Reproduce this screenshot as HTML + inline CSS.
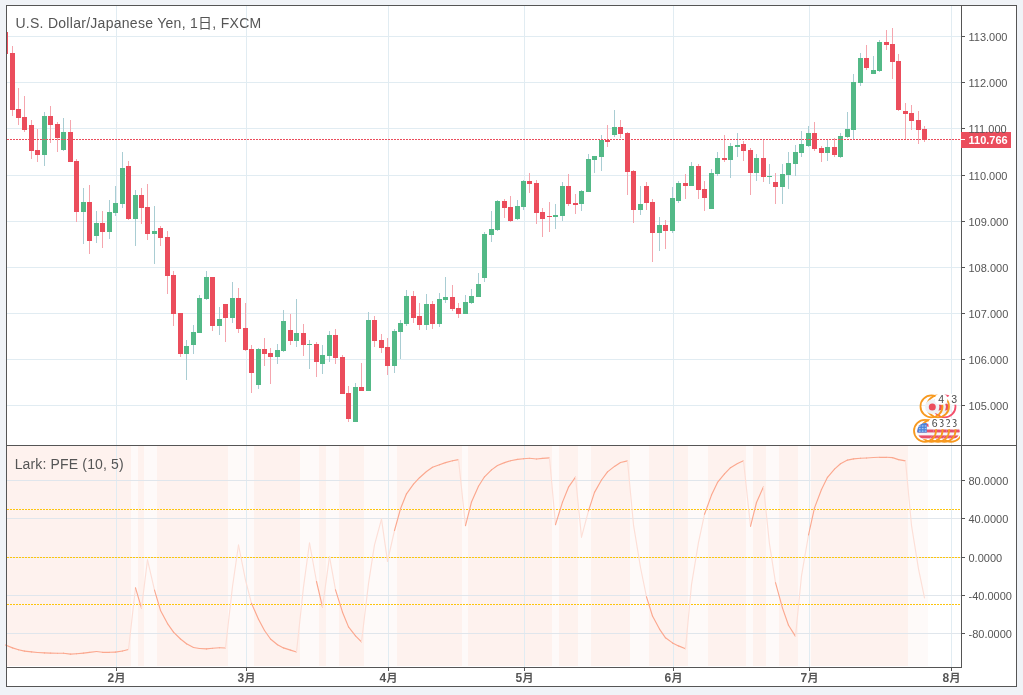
<!DOCTYPE html>
<html><head><meta charset="utf-8"><title>USDJPY</title>
<style>
html,body{margin:0;padding:0;background:#f0f3f7;}
#c{will-change:transform;transform:translateZ(0);position:relative;width:1023px;height:695px;overflow:hidden;background:#f0f3f7;font-family:"Liberation Sans","Noto Sans CJK JP",sans-serif;}
.t{position:absolute;white-space:nowrap;line-height:14px;height:14px;}
#tx{position:absolute;left:0;top:0;width:100%;height:100%;}
</style></head><body><div id="c">
<svg width="1023" height="695" viewBox="0 0 1023 695" style="position:absolute;left:0;top:0">
<rect x="6" y="5" width="1011" height="682" fill="#fff"/>
<g shape-rendering="crispEdges">
<rect x="7" y="446" width="1" height="220" fill="#fef2ee"/>
<rect x="8" y="446" width="7" height="220" fill="#fef2ee"/>
<rect x="15" y="446" width="6" height="220" fill="#fef2ee"/>
<rect x="21" y="446" width="7" height="220" fill="#fef2ee"/>
<rect x="28" y="446" width="6" height="220" fill="#fef2ee"/>
<rect x="34" y="446" width="7" height="220" fill="#fef2ee"/>
<rect x="41" y="446" width="6" height="220" fill="#fef2ee"/>
<rect x="47" y="446" width="7" height="220" fill="#fef2ee"/>
<rect x="54" y="446" width="6" height="220" fill="#fef2ee"/>
<rect x="60" y="446" width="7" height="220" fill="#fef2ee"/>
<rect x="67" y="446" width="6" height="220" fill="#fef2ee"/>
<rect x="73" y="446" width="7" height="220" fill="#fef2ee"/>
<rect x="80" y="446" width="6" height="220" fill="#fef2ee"/>
<rect x="86" y="446" width="6" height="220" fill="#fef2ee"/>
<rect x="92" y="446" width="7" height="220" fill="#fef2ee"/>
<rect x="99" y="446" width="6" height="220" fill="#fef2ee"/>
<rect x="105" y="446" width="7" height="220" fill="#fef2ee"/>
<rect x="112" y="446" width="6" height="220" fill="#fef2ee"/>
<rect x="118" y="446" width="7" height="220" fill="#fef2ee"/>
<rect x="125" y="446" width="6" height="220" fill="#fef2ee"/>
<rect x="131" y="446" width="7" height="220" fill="#fefaf9"/>
<rect x="138" y="446" width="6" height="220" fill="#fef2ee"/>
<rect x="144" y="446" width="7" height="220" fill="#fefaf9"/>
<rect x="151" y="446" width="6" height="220" fill="#fefaf9"/>
<rect x="157" y="446" width="7" height="220" fill="#fef2ee"/>
<rect x="164" y="446" width="6" height="220" fill="#fef2ee"/>
<rect x="170" y="446" width="7" height="220" fill="#fef2ee"/>
<rect x="177" y="446" width="6" height="220" fill="#fef2ee"/>
<rect x="183" y="446" width="7" height="220" fill="#fef2ee"/>
<rect x="190" y="446" width="6" height="220" fill="#fef2ee"/>
<rect x="196" y="446" width="7" height="220" fill="#fef2ee"/>
<rect x="203" y="446" width="6" height="220" fill="#fef2ee"/>
<rect x="209" y="446" width="7" height="220" fill="#fef2ee"/>
<rect x="216" y="446" width="6" height="220" fill="#fef2ee"/>
<rect x="222" y="446" width="6" height="220" fill="#fef2ee"/>
<rect x="228" y="446" width="7" height="220" fill="#fefaf9"/>
<rect x="235" y="446" width="6" height="220" fill="#fefaf9"/>
<rect x="241" y="446" width="7" height="220" fill="#fefaf9"/>
<rect x="248" y="446" width="6" height="220" fill="#fefaf9"/>
<rect x="254" y="446" width="7" height="220" fill="#fef2ee"/>
<rect x="261" y="446" width="6" height="220" fill="#fef2ee"/>
<rect x="267" y="446" width="7" height="220" fill="#fef2ee"/>
<rect x="274" y="446" width="6" height="220" fill="#fef2ee"/>
<rect x="280" y="446" width="7" height="220" fill="#fef2ee"/>
<rect x="287" y="446" width="6" height="220" fill="#fef2ee"/>
<rect x="293" y="446" width="7" height="220" fill="#fef2ee"/>
<rect x="300" y="446" width="6" height="220" fill="#fefaf9"/>
<rect x="306" y="446" width="7" height="220" fill="#fefaf9"/>
<rect x="313" y="446" width="6" height="220" fill="#fefaf9"/>
<rect x="319" y="446" width="7" height="220" fill="#fef2ee"/>
<rect x="326" y="446" width="6" height="220" fill="#fefaf9"/>
<rect x="332" y="446" width="7" height="220" fill="#fefaf9"/>
<rect x="339" y="446" width="6" height="220" fill="#fef2ee"/>
<rect x="345" y="446" width="6" height="220" fill="#fef2ee"/>
<rect x="351" y="446" width="7" height="220" fill="#fef2ee"/>
<rect x="358" y="446" width="6" height="220" fill="#fef2ee"/>
<rect x="364" y="446" width="7" height="220" fill="#fefaf9"/>
<rect x="371" y="446" width="6" height="220" fill="#fefaf9"/>
<rect x="377" y="446" width="7" height="220" fill="#fefaf9"/>
<rect x="384" y="446" width="6" height="220" fill="#fefaf9"/>
<rect x="390" y="446" width="7" height="220" fill="#fefaf9"/>
<rect x="397" y="446" width="6" height="220" fill="#fef2ee"/>
<rect x="403" y="446" width="7" height="220" fill="#fef2ee"/>
<rect x="410" y="446" width="6" height="220" fill="#fef2ee"/>
<rect x="416" y="446" width="7" height="220" fill="#fef2ee"/>
<rect x="423" y="446" width="6" height="220" fill="#fef2ee"/>
<rect x="429" y="446" width="7" height="220" fill="#fef2ee"/>
<rect x="436" y="446" width="6" height="220" fill="#fef2ee"/>
<rect x="442" y="446" width="7" height="220" fill="#fef2ee"/>
<rect x="449" y="446" width="6" height="220" fill="#fef2ee"/>
<rect x="455" y="446" width="7" height="220" fill="#fef2ee"/>
<rect x="462" y="446" width="6" height="220" fill="#fefaf9"/>
<rect x="468" y="446" width="6" height="220" fill="#fef2ee"/>
<rect x="474" y="446" width="7" height="220" fill="#fef2ee"/>
<rect x="481" y="446" width="6" height="220" fill="#fef2ee"/>
<rect x="487" y="446" width="7" height="220" fill="#fef2ee"/>
<rect x="494" y="446" width="6" height="220" fill="#fef2ee"/>
<rect x="500" y="446" width="7" height="220" fill="#fef2ee"/>
<rect x="507" y="446" width="6" height="220" fill="#fef2ee"/>
<rect x="513" y="446" width="7" height="220" fill="#fef2ee"/>
<rect x="520" y="446" width="6" height="220" fill="#fef2ee"/>
<rect x="526" y="446" width="7" height="220" fill="#fef2ee"/>
<rect x="533" y="446" width="6" height="220" fill="#fef2ee"/>
<rect x="539" y="446" width="7" height="220" fill="#fef2ee"/>
<rect x="546" y="446" width="6" height="220" fill="#fef2ee"/>
<rect x="552" y="446" width="7" height="220" fill="#fefaf9"/>
<rect x="559" y="446" width="6" height="220" fill="#fef2ee"/>
<rect x="565" y="446" width="7" height="220" fill="#fef2ee"/>
<rect x="572" y="446" width="6" height="220" fill="#fef2ee"/>
<rect x="578" y="446" width="7" height="220" fill="#fefaf9"/>
<rect x="585" y="446" width="6" height="220" fill="#fefaf9"/>
<rect x="591" y="446" width="6" height="220" fill="#fef2ee"/>
<rect x="597" y="446" width="7" height="220" fill="#fef2ee"/>
<rect x="604" y="446" width="6" height="220" fill="#fef2ee"/>
<rect x="610" y="446" width="7" height="220" fill="#fef2ee"/>
<rect x="617" y="446" width="6" height="220" fill="#fef2ee"/>
<rect x="623" y="446" width="7" height="220" fill="#fef2ee"/>
<rect x="630" y="446" width="6" height="220" fill="#fefaf9"/>
<rect x="636" y="446" width="7" height="220" fill="#fefaf9"/>
<rect x="643" y="446" width="6" height="220" fill="#fefaf9"/>
<rect x="649" y="446" width="7" height="220" fill="#fef2ee"/>
<rect x="656" y="446" width="6" height="220" fill="#fef2ee"/>
<rect x="662" y="446" width="7" height="220" fill="#fef2ee"/>
<rect x="669" y="446" width="6" height="220" fill="#fef2ee"/>
<rect x="675" y="446" width="7" height="220" fill="#fef2ee"/>
<rect x="682" y="446" width="6" height="220" fill="#fef2ee"/>
<rect x="688" y="446" width="7" height="220" fill="#fefaf9"/>
<rect x="695" y="446" width="6" height="220" fill="#fefaf9"/>
<rect x="701" y="446" width="7" height="220" fill="#fefaf9"/>
<rect x="708" y="446" width="6" height="220" fill="#fef2ee"/>
<rect x="714" y="446" width="6" height="220" fill="#fef2ee"/>
<rect x="720" y="446" width="7" height="220" fill="#fef2ee"/>
<rect x="727" y="446" width="6" height="220" fill="#fef2ee"/>
<rect x="733" y="446" width="7" height="220" fill="#fef2ee"/>
<rect x="740" y="446" width="6" height="220" fill="#fef2ee"/>
<rect x="746" y="446" width="7" height="220" fill="#fefaf9"/>
<rect x="753" y="446" width="6" height="220" fill="#fef2ee"/>
<rect x="759" y="446" width="7" height="220" fill="#fef2ee"/>
<rect x="766" y="446" width="6" height="220" fill="#fefaf9"/>
<rect x="772" y="446" width="7" height="220" fill="#fefaf9"/>
<rect x="779" y="446" width="6" height="220" fill="#fef2ee"/>
<rect x="785" y="446" width="7" height="220" fill="#fef2ee"/>
<rect x="792" y="446" width="6" height="220" fill="#fef2ee"/>
<rect x="798" y="446" width="7" height="220" fill="#fefaf9"/>
<rect x="805" y="446" width="6" height="220" fill="#fefaf9"/>
<rect x="811" y="446" width="7" height="220" fill="#fef2ee"/>
<rect x="818" y="446" width="6" height="220" fill="#fef2ee"/>
<rect x="824" y="446" width="7" height="220" fill="#fef2ee"/>
<rect x="831" y="446" width="6" height="220" fill="#fef2ee"/>
<rect x="837" y="446" width="6" height="220" fill="#fef2ee"/>
<rect x="843" y="446" width="7" height="220" fill="#fef2ee"/>
<rect x="850" y="446" width="6" height="220" fill="#fef2ee"/>
<rect x="856" y="446" width="7" height="220" fill="#fef2ee"/>
<rect x="863" y="446" width="6" height="220" fill="#fef2ee"/>
<rect x="869" y="446" width="7" height="220" fill="#fef2ee"/>
<rect x="876" y="446" width="6" height="220" fill="#fef2ee"/>
<rect x="882" y="446" width="7" height="220" fill="#fef2ee"/>
<rect x="889" y="446" width="6" height="220" fill="#fef2ee"/>
<rect x="895" y="446" width="7" height="220" fill="#fef2ee"/>
<rect x="902" y="446" width="6" height="220" fill="#fef2ee"/>
<rect x="908" y="446" width="7" height="220" fill="#fefaf9"/>
<rect x="915" y="446" width="6" height="220" fill="#fefaf9"/>
<rect x="921" y="446" width="7" height="220" fill="#fefaf9"/>
<rect x="116" y="6" width="1" height="661" fill="#e1ecf2"/>
<rect x="246" y="6" width="1" height="661" fill="#e1ecf2"/>
<rect x="388" y="6" width="1" height="661" fill="#e1ecf2"/>
<rect x="524" y="6" width="1" height="661" fill="#e1ecf2"/>
<rect x="673" y="6" width="1" height="661" fill="#e1ecf2"/>
<rect x="809" y="6" width="1" height="661" fill="#e1ecf2"/>
<rect x="951" y="6" width="1" height="661" fill="#e1ecf2"/>
<rect x="7" y="36" width="954" height="1" fill="#e1ecf2"/>
<rect x="7" y="82" width="954" height="1" fill="#e1ecf2"/>
<rect x="7" y="128" width="954" height="1" fill="#e1ecf2"/>
<rect x="7" y="175" width="954" height="1" fill="#e1ecf2"/>
<rect x="7" y="221" width="954" height="1" fill="#e1ecf2"/>
<rect x="7" y="267" width="954" height="1" fill="#e1ecf2"/>
<rect x="7" y="313" width="954" height="1" fill="#e1ecf2"/>
<rect x="7" y="359" width="954" height="1" fill="#e1ecf2"/>
<rect x="7" y="405" width="954" height="1" fill="#e1ecf2"/>
<rect x="7" y="480" width="954" height="1" fill="#e0e6ec"/>
<rect x="7" y="518" width="954" height="1" fill="#e0e6ec"/>
<rect x="7" y="557" width="954" height="1" fill="#e0e6ec"/>
<rect x="7" y="595" width="954" height="1" fill="#e0e6ec"/>
<rect x="7" y="633" width="954" height="1" fill="#e0e6ec"/>
</g>
<g shape-rendering="crispEdges">
<rect x="7" y="32" width="1" height="22" fill="#eb4d5c"/>
<rect x="12" y="46" width="1" height="70" fill="#f5a6ae"/>
<rect x="10" y="53" width="5" height="57" fill="#eb4d5c"/>
<rect x="18" y="88" width="1" height="37" fill="#f5a6ae"/>
<rect x="16" y="109" width="5" height="9" fill="#eb4d5c"/>
<rect x="24" y="96" width="1" height="36" fill="#f5a6ae"/>
<rect x="22" y="117" width="5" height="13" fill="#eb4d5c"/>
<rect x="31" y="120" width="1" height="39" fill="#f5a6ae"/>
<rect x="29" y="125" width="5" height="26" fill="#eb4d5c"/>
<rect x="37" y="129" width="1" height="33" fill="#f5a6ae"/>
<rect x="35" y="150" width="5" height="5" fill="#eb4d5c"/>
<rect x="44" y="112" width="1" height="54" fill="#a9cdd3"/>
<rect x="42" y="116" width="5" height="39" fill="#53b987"/>
<rect x="50" y="106" width="1" height="37" fill="#f5a6ae"/>
<rect x="48" y="116" width="5" height="9" fill="#eb4d5c"/>
<rect x="57" y="122" width="1" height="30" fill="#f5a6ae"/>
<rect x="55" y="124" width="5" height="14" fill="#eb4d5c"/>
<rect x="63" y="118" width="1" height="33" fill="#a9cdd3"/>
<rect x="61" y="132" width="5" height="18" fill="#53b987"/>
<rect x="70" y="120" width="1" height="42" fill="#f5a6ae"/>
<rect x="68" y="132" width="5" height="30" fill="#eb4d5c"/>
<rect x="76" y="159" width="1" height="63" fill="#f5a6ae"/>
<rect x="74" y="161" width="5" height="51" fill="#eb4d5c"/>
<rect x="83" y="188" width="1" height="56" fill="#a9cdd3"/>
<rect x="81" y="202" width="5" height="10" fill="#53b987"/>
<rect x="89" y="185" width="1" height="69" fill="#f5a6ae"/>
<rect x="87" y="202" width="5" height="39" fill="#eb4d5c"/>
<rect x="96" y="211" width="1" height="32" fill="#a9cdd3"/>
<rect x="94" y="223" width="5" height="13" fill="#53b987"/>
<rect x="102" y="211" width="1" height="37" fill="#f5a6ae"/>
<rect x="100" y="223" width="5" height="9" fill="#eb4d5c"/>
<rect x="109" y="200" width="1" height="39" fill="#a9cdd3"/>
<rect x="107" y="212" width="5" height="20" fill="#53b987"/>
<rect x="115" y="186" width="1" height="30" fill="#a9cdd3"/>
<rect x="113" y="203" width="5" height="10" fill="#53b987"/>
<rect x="122" y="152" width="1" height="56" fill="#a9cdd3"/>
<rect x="120" y="168" width="5" height="36" fill="#53b987"/>
<rect x="128" y="161" width="1" height="59" fill="#f5a6ae"/>
<rect x="126" y="166" width="5" height="53" fill="#eb4d5c"/>
<rect x="135" y="190" width="1" height="56" fill="#a9cdd3"/>
<rect x="133" y="195" width="5" height="24" fill="#53b987"/>
<rect x="141" y="188" width="1" height="36" fill="#f5a6ae"/>
<rect x="139" y="195" width="5" height="13" fill="#eb4d5c"/>
<rect x="147" y="184" width="1" height="56" fill="#f5a6ae"/>
<rect x="145" y="207" width="5" height="27" fill="#eb4d5c"/>
<rect x="154" y="206" width="1" height="58" fill="#a9cdd3"/>
<rect x="152" y="231" width="5" height="3" fill="#53b987"/>
<rect x="160" y="226" width="1" height="20" fill="#f5a6ae"/>
<rect x="158" y="228" width="5" height="10" fill="#eb4d5c"/>
<rect x="167" y="231" width="1" height="63" fill="#f5a6ae"/>
<rect x="165" y="237" width="5" height="39" fill="#eb4d5c"/>
<rect x="173" y="271" width="1" height="55" fill="#f5a6ae"/>
<rect x="171" y="275" width="5" height="39" fill="#eb4d5c"/>
<rect x="180" y="313" width="1" height="44" fill="#f5a6ae"/>
<rect x="178" y="313" width="5" height="41" fill="#eb4d5c"/>
<rect x="186" y="340" width="1" height="40" fill="#a9cdd3"/>
<rect x="184" y="346" width="5" height="8" fill="#53b987"/>
<rect x="193" y="325" width="1" height="29" fill="#a9cdd3"/>
<rect x="191" y="332" width="5" height="13" fill="#53b987"/>
<rect x="199" y="295" width="1" height="38" fill="#a9cdd3"/>
<rect x="197" y="298" width="5" height="35" fill="#53b987"/>
<rect x="206" y="271" width="1" height="29" fill="#a9cdd3"/>
<rect x="204" y="277" width="5" height="22" fill="#53b987"/>
<rect x="212" y="277" width="1" height="54" fill="#f5a6ae"/>
<rect x="210" y="277" width="5" height="49" fill="#eb4d5c"/>
<rect x="219" y="307" width="1" height="28" fill="#a9cdd3"/>
<rect x="217" y="319" width="5" height="7" fill="#53b987"/>
<rect x="225" y="304" width="1" height="38" fill="#f5a6ae"/>
<rect x="223" y="304" width="5" height="14" fill="#eb4d5c"/>
<rect x="232" y="282" width="1" height="41" fill="#a9cdd3"/>
<rect x="230" y="298" width="5" height="20" fill="#53b987"/>
<rect x="238" y="288" width="1" height="45" fill="#f5a6ae"/>
<rect x="236" y="298" width="5" height="31" fill="#eb4d5c"/>
<rect x="245" y="303" width="1" height="48" fill="#f5a6ae"/>
<rect x="243" y="328" width="5" height="22" fill="#eb4d5c"/>
<rect x="251" y="345" width="1" height="48" fill="#f5a6ae"/>
<rect x="249" y="349" width="5" height="24" fill="#eb4d5c"/>
<rect x="258" y="348" width="1" height="41" fill="#a9cdd3"/>
<rect x="256" y="349" width="5" height="36" fill="#53b987"/>
<rect x="264" y="338" width="1" height="28" fill="#f5a6ae"/>
<rect x="262" y="349" width="5" height="5" fill="#eb4d5c"/>
<rect x="270" y="348" width="1" height="36" fill="#f5a6ae"/>
<rect x="268" y="353" width="5" height="4" fill="#eb4d5c"/>
<rect x="277" y="344" width="1" height="20" fill="#a9cdd3"/>
<rect x="275" y="350" width="5" height="7" fill="#53b987"/>
<rect x="283" y="310" width="1" height="42" fill="#a9cdd3"/>
<rect x="281" y="321" width="5" height="30" fill="#53b987"/>
<rect x="290" y="314" width="1" height="31" fill="#f5a6ae"/>
<rect x="288" y="330" width="5" height="11" fill="#eb4d5c"/>
<rect x="296" y="299" width="1" height="48" fill="#a9cdd3"/>
<rect x="294" y="333" width="5" height="8" fill="#53b987"/>
<rect x="303" y="324" width="1" height="32" fill="#f5a6ae"/>
<rect x="301" y="333" width="5" height="12" fill="#eb4d5c"/>
<rect x="309" y="340" width="1" height="29" fill="#a9cdd3"/>
<rect x="307" y="344" width="5" height="1" fill="#53b987"/>
<rect x="316" y="342" width="1" height="35" fill="#f5a6ae"/>
<rect x="314" y="344" width="5" height="18" fill="#eb4d5c"/>
<rect x="322" y="345" width="1" height="29" fill="#a9cdd3"/>
<rect x="320" y="355" width="5" height="9" fill="#53b987"/>
<rect x="329" y="331" width="1" height="31" fill="#a9cdd3"/>
<rect x="327" y="335" width="5" height="21" fill="#53b987"/>
<rect x="335" y="329" width="1" height="35" fill="#f5a6ae"/>
<rect x="333" y="335" width="5" height="23" fill="#eb4d5c"/>
<rect x="342" y="355" width="1" height="39" fill="#f5a6ae"/>
<rect x="340" y="357" width="5" height="37" fill="#eb4d5c"/>
<rect x="348" y="386" width="1" height="36" fill="#f5a6ae"/>
<rect x="346" y="393" width="5" height="26" fill="#eb4d5c"/>
<rect x="355" y="383" width="1" height="39" fill="#a9cdd3"/>
<rect x="353" y="387" width="5" height="35" fill="#53b987"/>
<rect x="361" y="363" width="1" height="28" fill="#f5a6ae"/>
<rect x="359" y="387" width="5" height="4" fill="#eb4d5c"/>
<rect x="368" y="312" width="1" height="79" fill="#a9cdd3"/>
<rect x="366" y="320" width="5" height="71" fill="#53b987"/>
<rect x="374" y="316" width="1" height="31" fill="#f5a6ae"/>
<rect x="372" y="320" width="5" height="21" fill="#eb4d5c"/>
<rect x="381" y="334" width="1" height="19" fill="#f5a6ae"/>
<rect x="379" y="340" width="5" height="8" fill="#eb4d5c"/>
<rect x="387" y="338" width="1" height="37" fill="#f5a6ae"/>
<rect x="385" y="347" width="5" height="19" fill="#eb4d5c"/>
<rect x="394" y="329" width="1" height="44" fill="#a9cdd3"/>
<rect x="392" y="331" width="5" height="35" fill="#53b987"/>
<rect x="400" y="320" width="1" height="39" fill="#a9cdd3"/>
<rect x="398" y="323" width="5" height="9" fill="#53b987"/>
<rect x="406" y="290" width="1" height="36" fill="#a9cdd3"/>
<rect x="404" y="296" width="5" height="28" fill="#53b987"/>
<rect x="413" y="291" width="1" height="32" fill="#f5a6ae"/>
<rect x="411" y="296" width="5" height="22" fill="#eb4d5c"/>
<rect x="419" y="303" width="1" height="27" fill="#f5a6ae"/>
<rect x="417" y="316" width="5" height="9" fill="#eb4d5c"/>
<rect x="426" y="294" width="1" height="36" fill="#a9cdd3"/>
<rect x="424" y="304" width="5" height="21" fill="#53b987"/>
<rect x="432" y="301" width="1" height="28" fill="#f5a6ae"/>
<rect x="430" y="304" width="5" height="20" fill="#eb4d5c"/>
<rect x="439" y="293" width="1" height="34" fill="#a9cdd3"/>
<rect x="437" y="299" width="5" height="25" fill="#53b987"/>
<rect x="445" y="277" width="1" height="26" fill="#a9cdd3"/>
<rect x="443" y="297" width="5" height="3" fill="#53b987"/>
<rect x="452" y="285" width="1" height="26" fill="#f5a6ae"/>
<rect x="450" y="297" width="5" height="12" fill="#eb4d5c"/>
<rect x="458" y="303" width="1" height="15" fill="#f5a6ae"/>
<rect x="456" y="308" width="5" height="6" fill="#eb4d5c"/>
<rect x="465" y="295" width="1" height="19" fill="#a9cdd3"/>
<rect x="463" y="302" width="5" height="12" fill="#53b987"/>
<rect x="471" y="289" width="1" height="15" fill="#a9cdd3"/>
<rect x="469" y="296" width="5" height="7" fill="#53b987"/>
<rect x="478" y="273" width="1" height="24" fill="#a9cdd3"/>
<rect x="476" y="284" width="5" height="13" fill="#53b987"/>
<rect x="484" y="232" width="1" height="50" fill="#a9cdd3"/>
<rect x="482" y="234" width="5" height="44" fill="#53b987"/>
<rect x="491" y="211" width="1" height="31" fill="#a9cdd3"/>
<rect x="489" y="229" width="5" height="6" fill="#53b987"/>
<rect x="497" y="200" width="1" height="31" fill="#a9cdd3"/>
<rect x="495" y="201" width="5" height="29" fill="#53b987"/>
<rect x="504" y="199" width="1" height="19" fill="#f5a6ae"/>
<rect x="502" y="201" width="5" height="7" fill="#eb4d5c"/>
<rect x="510" y="196" width="1" height="26" fill="#f5a6ae"/>
<rect x="508" y="207" width="5" height="14" fill="#eb4d5c"/>
<rect x="517" y="200" width="1" height="20" fill="#a9cdd3"/>
<rect x="515" y="206" width="5" height="13" fill="#53b987"/>
<rect x="523" y="180" width="1" height="30" fill="#a9cdd3"/>
<rect x="521" y="181" width="5" height="26" fill="#53b987"/>
<rect x="529" y="173" width="1" height="20" fill="#f5a6ae"/>
<rect x="527" y="181" width="5" height="3" fill="#eb4d5c"/>
<rect x="536" y="180" width="1" height="44" fill="#f5a6ae"/>
<rect x="534" y="183" width="5" height="30" fill="#eb4d5c"/>
<rect x="542" y="208" width="1" height="29" fill="#f5a6ae"/>
<rect x="540" y="212" width="5" height="7" fill="#eb4d5c"/>
<rect x="549" y="202" width="1" height="30" fill="#f5a6ae"/>
<rect x="547" y="216" width="5" height="1" fill="#eb4d5c"/>
<rect x="555" y="204" width="1" height="25" fill="#a9cdd3"/>
<rect x="553" y="215" width="5" height="2" fill="#53b987"/>
<rect x="562" y="182" width="1" height="39" fill="#a9cdd3"/>
<rect x="560" y="186" width="5" height="30" fill="#53b987"/>
<rect x="568" y="174" width="1" height="32" fill="#f5a6ae"/>
<rect x="566" y="186" width="5" height="18" fill="#eb4d5c"/>
<rect x="575" y="194" width="1" height="20" fill="#f5a6ae"/>
<rect x="573" y="203" width="5" height="2" fill="#eb4d5c"/>
<rect x="581" y="190" width="1" height="21" fill="#a9cdd3"/>
<rect x="579" y="191" width="5" height="13" fill="#53b987"/>
<rect x="588" y="154" width="1" height="38" fill="#a9cdd3"/>
<rect x="586" y="159" width="5" height="33" fill="#53b987"/>
<rect x="594" y="156" width="1" height="17" fill="#a9cdd3"/>
<rect x="592" y="156" width="5" height="4" fill="#53b987"/>
<rect x="601" y="135" width="1" height="36" fill="#a9cdd3"/>
<rect x="599" y="140" width="5" height="17" fill="#53b987"/>
<rect x="607" y="125" width="1" height="22" fill="#f5a6ae"/>
<rect x="605" y="140" width="5" height="2" fill="#eb4d5c"/>
<rect x="614" y="110" width="1" height="27" fill="#a9cdd3"/>
<rect x="612" y="127" width="5" height="8" fill="#53b987"/>
<rect x="620" y="120" width="1" height="18" fill="#f5a6ae"/>
<rect x="618" y="127" width="5" height="7" fill="#eb4d5c"/>
<rect x="627" y="132" width="1" height="63" fill="#f5a6ae"/>
<rect x="625" y="133" width="5" height="39" fill="#eb4d5c"/>
<rect x="633" y="170" width="1" height="53" fill="#f5a6ae"/>
<rect x="631" y="171" width="5" height="39" fill="#eb4d5c"/>
<rect x="640" y="186" width="1" height="29" fill="#a9cdd3"/>
<rect x="638" y="204" width="5" height="6" fill="#53b987"/>
<rect x="646" y="182" width="1" height="28" fill="#f5a6ae"/>
<rect x="644" y="186" width="5" height="17" fill="#eb4d5c"/>
<rect x="652" y="199" width="1" height="63" fill="#f5a6ae"/>
<rect x="650" y="202" width="5" height="31" fill="#eb4d5c"/>
<rect x="659" y="217" width="1" height="34" fill="#a9cdd3"/>
<rect x="657" y="225" width="5" height="8" fill="#53b987"/>
<rect x="665" y="220" width="1" height="29" fill="#f5a6ae"/>
<rect x="663" y="225" width="5" height="6" fill="#eb4d5c"/>
<rect x="672" y="187" width="1" height="46" fill="#a9cdd3"/>
<rect x="670" y="198" width="5" height="33" fill="#53b987"/>
<rect x="678" y="181" width="1" height="22" fill="#a9cdd3"/>
<rect x="676" y="183" width="5" height="18" fill="#53b987"/>
<rect x="685" y="174" width="1" height="25" fill="#f5a6ae"/>
<rect x="683" y="183" width="5" height="3" fill="#eb4d5c"/>
<rect x="691" y="162" width="1" height="24" fill="#a9cdd3"/>
<rect x="689" y="166" width="5" height="20" fill="#53b987"/>
<rect x="698" y="164" width="1" height="35" fill="#f5a6ae"/>
<rect x="696" y="166" width="5" height="24" fill="#eb4d5c"/>
<rect x="704" y="181" width="1" height="30" fill="#f5a6ae"/>
<rect x="702" y="189" width="5" height="9" fill="#eb4d5c"/>
<rect x="711" y="169" width="1" height="40" fill="#a9cdd3"/>
<rect x="709" y="173" width="5" height="36" fill="#53b987"/>
<rect x="717" y="152" width="1" height="24" fill="#a9cdd3"/>
<rect x="715" y="158" width="5" height="16" fill="#53b987"/>
<rect x="724" y="135" width="1" height="27" fill="#f5a6ae"/>
<rect x="722" y="158" width="5" height="2" fill="#eb4d5c"/>
<rect x="730" y="143" width="1" height="35" fill="#a9cdd3"/>
<rect x="728" y="146" width="5" height="14" fill="#53b987"/>
<rect x="737" y="133" width="1" height="24" fill="#a9cdd3"/>
<rect x="735" y="145" width="5" height="2" fill="#53b987"/>
<rect x="743" y="141" width="1" height="20" fill="#f5a6ae"/>
<rect x="741" y="144" width="5" height="7" fill="#eb4d5c"/>
<rect x="750" y="148" width="1" height="47" fill="#f5a6ae"/>
<rect x="748" y="150" width="5" height="23" fill="#eb4d5c"/>
<rect x="756" y="154" width="1" height="27" fill="#a9cdd3"/>
<rect x="754" y="158" width="5" height="15" fill="#53b987"/>
<rect x="763" y="140" width="1" height="42" fill="#f5a6ae"/>
<rect x="761" y="158" width="5" height="19" fill="#eb4d5c"/>
<rect x="769" y="164" width="1" height="20" fill="#a9cdd3"/>
<rect x="767" y="176" width="5" height="1" fill="#53b987"/>
<rect x="775" y="173" width="1" height="31" fill="#f5a6ae"/>
<rect x="773" y="182" width="5" height="5" fill="#eb4d5c"/>
<rect x="782" y="164" width="1" height="40" fill="#a9cdd3"/>
<rect x="780" y="174" width="5" height="13" fill="#53b987"/>
<rect x="788" y="152" width="1" height="37" fill="#a9cdd3"/>
<rect x="786" y="163" width="5" height="12" fill="#53b987"/>
<rect x="795" y="145" width="1" height="31" fill="#a9cdd3"/>
<rect x="793" y="152" width="5" height="12" fill="#53b987"/>
<rect x="801" y="131" width="1" height="26" fill="#a9cdd3"/>
<rect x="799" y="144" width="5" height="9" fill="#53b987"/>
<rect x="808" y="126" width="1" height="21" fill="#a9cdd3"/>
<rect x="806" y="133" width="5" height="13" fill="#53b987"/>
<rect x="814" y="122" width="1" height="29" fill="#f5a6ae"/>
<rect x="812" y="133" width="5" height="16" fill="#eb4d5c"/>
<rect x="821" y="146" width="1" height="16" fill="#f5a6ae"/>
<rect x="819" y="148" width="5" height="5" fill="#eb4d5c"/>
<rect x="827" y="140" width="1" height="21" fill="#a9cdd3"/>
<rect x="825" y="147" width="5" height="6" fill="#53b987"/>
<rect x="834" y="138" width="1" height="19" fill="#f5a6ae"/>
<rect x="832" y="147" width="5" height="8" fill="#eb4d5c"/>
<rect x="840" y="133" width="1" height="25" fill="#a9cdd3"/>
<rect x="838" y="136" width="5" height="21" fill="#53b987"/>
<rect x="847" y="112" width="1" height="26" fill="#a9cdd3"/>
<rect x="845" y="129" width="5" height="8" fill="#53b987"/>
<rect x="853" y="74" width="1" height="65" fill="#a9cdd3"/>
<rect x="851" y="82" width="5" height="48" fill="#53b987"/>
<rect x="860" y="53" width="1" height="33" fill="#a9cdd3"/>
<rect x="858" y="58" width="5" height="25" fill="#53b987"/>
<rect x="866" y="45" width="1" height="25" fill="#f5a6ae"/>
<rect x="864" y="58" width="5" height="10" fill="#eb4d5c"/>
<rect x="873" y="56" width="1" height="18" fill="#a9cdd3"/>
<rect x="871" y="70" width="5" height="4" fill="#53b987"/>
<rect x="879" y="40" width="1" height="32" fill="#a9cdd3"/>
<rect x="877" y="42" width="5" height="29" fill="#53b987"/>
<rect x="886" y="30" width="1" height="20" fill="#f5a6ae"/>
<rect x="884" y="42" width="5" height="3" fill="#eb4d5c"/>
<rect x="892" y="28" width="1" height="51" fill="#f5a6ae"/>
<rect x="890" y="44" width="5" height="18" fill="#eb4d5c"/>
<rect x="898" y="54" width="1" height="57" fill="#f5a6ae"/>
<rect x="896" y="61" width="5" height="49" fill="#eb4d5c"/>
<rect x="905" y="103" width="1" height="36" fill="#f5a6ae"/>
<rect x="903" y="111" width="5" height="3" fill="#eb4d5c"/>
<rect x="911" y="105" width="1" height="25" fill="#f5a6ae"/>
<rect x="909" y="113" width="5" height="8" fill="#eb4d5c"/>
<rect x="918" y="111" width="1" height="33" fill="#f5a6ae"/>
<rect x="916" y="120" width="5" height="10" fill="#eb4d5c"/>
<rect x="924" y="126" width="1" height="16" fill="#f5a6ae"/>
<rect x="922" y="129" width="5" height="11" fill="#eb4d5c"/>
</g>
<line x1="7" y1="139.5" x2="961" y2="139.5" stroke="#eb4d5c" stroke-width="1" stroke-dasharray="2,1" shape-rendering="crispEdges"/>
<line x1="7" y1="509.5" x2="960" y2="509.5" stroke="#fdc50c" stroke-width="1" stroke-dasharray="2,1" shape-rendering="crispEdges"/>
<line x1="7" y1="557.5" x2="960" y2="557.5" stroke="#fdc50c" stroke-width="1" stroke-dasharray="2,1" shape-rendering="crispEdges"/>
<line x1="7" y1="604.5" x2="960" y2="604.5" stroke="#fdc50c" stroke-width="1" stroke-dasharray="2,1" shape-rendering="crispEdges"/>
<g fill="none" stroke-width="1.15" stroke-linecap="round">
<line x1="5.5" y1="645.0" x2="12.5" y2="647.9" stroke="#fba88f"/>
<line x1="12.5" y1="647.9" x2="18.5" y2="649.8" stroke="#fba88f"/>
<line x1="18.5" y1="649.8" x2="24.5" y2="651.1" stroke="#fba88f"/>
<line x1="24.5" y1="651.1" x2="31.5" y2="651.9" stroke="#fba88f"/>
<line x1="31.5" y1="651.9" x2="37.5" y2="652.5" stroke="#fba88f"/>
<line x1="37.5" y1="652.5" x2="44.5" y2="652.9" stroke="#fba88f"/>
<line x1="44.5" y1="652.9" x2="50.5" y2="653.1" stroke="#fba88f"/>
<line x1="50.5" y1="653.1" x2="57.5" y2="653.3" stroke="#fba88f"/>
<line x1="57.5" y1="653.3" x2="63.5" y2="653.2" stroke="#fba88f"/>
<line x1="63.5" y1="653.2" x2="70.5" y2="654.1" stroke="#fba88f"/>
<line x1="70.5" y1="654.1" x2="76.5" y2="653.7" stroke="#fba88f"/>
<line x1="76.5" y1="653.7" x2="83.5" y2="653.1" stroke="#fba88f"/>
<line x1="83.5" y1="653.1" x2="89.5" y2="652.4" stroke="#fba88f"/>
<line x1="89.5" y1="652.4" x2="96.5" y2="651.5" stroke="#fba88f"/>
<line x1="96.5" y1="651.5" x2="102.5" y2="652.3" stroke="#fba88f"/>
<line x1="102.5" y1="652.3" x2="109.5" y2="652.3" stroke="#fba88f"/>
<line x1="109.5" y1="652.3" x2="115.5" y2="652.1" stroke="#fba88f"/>
<line x1="115.5" y1="652.1" x2="122.5" y2="651.0" stroke="#fba88f"/>
<line x1="122.5" y1="651.0" x2="128.5" y2="649.5" stroke="#fba88f"/>
<line x1="128.5" y1="649.5" x2="135.5" y2="587.8" stroke="#fddfd7"/>
<line x1="135.5" y1="587.8" x2="141.5" y2="608.1" stroke="#fba88f"/>
<line x1="141.5" y1="608.1" x2="147.5" y2="559.8" stroke="#fddfd7"/>
<line x1="147.5" y1="559.8" x2="154.5" y2="590.1" stroke="#fddfd7"/>
<line x1="154.5" y1="590.1" x2="160.5" y2="610.4" stroke="#fba88f"/>
<line x1="160.5" y1="610.4" x2="167.5" y2="623.6" stroke="#fba88f"/>
<line x1="167.5" y1="623.6" x2="173.5" y2="632.1" stroke="#fba88f"/>
<line x1="173.5" y1="632.1" x2="180.5" y2="639.0" stroke="#fba88f"/>
<line x1="180.5" y1="639.0" x2="186.5" y2="643.8" stroke="#fba88f"/>
<line x1="186.5" y1="643.8" x2="193.5" y2="647.5" stroke="#fba88f"/>
<line x1="193.5" y1="647.5" x2="199.5" y2="648.5" stroke="#fba88f"/>
<line x1="199.5" y1="648.5" x2="206.5" y2="648.9" stroke="#fba88f"/>
<line x1="206.5" y1="648.9" x2="212.5" y2="648.3" stroke="#fba88f"/>
<line x1="212.5" y1="648.3" x2="219.5" y2="647.8" stroke="#fba88f"/>
<line x1="219.5" y1="647.8" x2="225.5" y2="648.0" stroke="#fba88f"/>
<line x1="225.5" y1="648.0" x2="232.5" y2="586.5" stroke="#fddfd7"/>
<line x1="232.5" y1="586.5" x2="238.5" y2="545.0" stroke="#fddfd7"/>
<line x1="238.5" y1="545.0" x2="245.5" y2="580.1" stroke="#fddfd7"/>
<line x1="245.5" y1="580.1" x2="251.5" y2="603.3" stroke="#fddfd7"/>
<line x1="251.5" y1="603.3" x2="258.5" y2="619.3" stroke="#fba88f"/>
<line x1="258.5" y1="619.3" x2="264.5" y2="630.5" stroke="#fba88f"/>
<line x1="264.5" y1="630.5" x2="270.5" y2="639.0" stroke="#fba88f"/>
<line x1="270.5" y1="639.0" x2="277.5" y2="644.7" stroke="#fba88f"/>
<line x1="277.5" y1="644.7" x2="283.5" y2="647.9" stroke="#fba88f"/>
<line x1="283.5" y1="647.9" x2="290.5" y2="650.1" stroke="#fba88f"/>
<line x1="290.5" y1="650.1" x2="296.5" y2="652.0" stroke="#fba88f"/>
<line x1="296.5" y1="652.0" x2="303.5" y2="586.9" stroke="#fddfd7"/>
<line x1="303.5" y1="586.9" x2="309.5" y2="543.0" stroke="#fddfd7"/>
<line x1="309.5" y1="543.0" x2="316.5" y2="581.5" stroke="#fddfd7"/>
<line x1="316.5" y1="581.5" x2="322.5" y2="607.1" stroke="#fba88f"/>
<line x1="322.5" y1="607.1" x2="329.5" y2="556.7" stroke="#fddfd7"/>
<line x1="329.5" y1="556.7" x2="335.5" y2="589.9" stroke="#fddfd7"/>
<line x1="335.5" y1="589.9" x2="342.5" y2="612.2" stroke="#fba88f"/>
<line x1="342.5" y1="612.2" x2="348.5" y2="626.9" stroke="#fba88f"/>
<line x1="348.5" y1="626.9" x2="355.5" y2="635.8" stroke="#fba88f"/>
<line x1="355.5" y1="635.8" x2="361.5" y2="641.8" stroke="#fba88f"/>
<line x1="361.5" y1="641.8" x2="368.5" y2="583.6" stroke="#fddfd7"/>
<line x1="368.5" y1="583.6" x2="374.5" y2="544.9" stroke="#fddfd7"/>
<line x1="374.5" y1="544.9" x2="381.5" y2="519.2" stroke="#fddfd7"/>
<line x1="381.5" y1="519.2" x2="387.5" y2="561.4" stroke="#fddfd7"/>
<line x1="387.5" y1="561.4" x2="394.5" y2="530.5" stroke="#fddfd7"/>
<line x1="394.5" y1="530.5" x2="400.5" y2="508.8" stroke="#fba88f"/>
<line x1="400.5" y1="508.8" x2="406.5" y2="493.8" stroke="#fba88f"/>
<line x1="406.5" y1="493.8" x2="413.5" y2="484.1" stroke="#fba88f"/>
<line x1="413.5" y1="484.1" x2="419.5" y2="477.7" stroke="#fba88f"/>
<line x1="419.5" y1="477.7" x2="426.5" y2="471.5" stroke="#fba88f"/>
<line x1="426.5" y1="471.5" x2="432.5" y2="467.3" stroke="#fba88f"/>
<line x1="432.5" y1="467.3" x2="439.5" y2="464.8" stroke="#fba88f"/>
<line x1="439.5" y1="464.8" x2="445.5" y2="462.6" stroke="#fba88f"/>
<line x1="445.5" y1="462.6" x2="452.5" y2="460.8" stroke="#fba88f"/>
<line x1="452.5" y1="460.8" x2="458.5" y2="459.6" stroke="#fba88f"/>
<line x1="458.5" y1="459.6" x2="465.5" y2="525.6" stroke="#fddfd7"/>
<line x1="465.5" y1="525.6" x2="471.5" y2="502.0" stroke="#fba88f"/>
<line x1="471.5" y1="502.0" x2="478.5" y2="486.2" stroke="#fba88f"/>
<line x1="478.5" y1="486.2" x2="484.5" y2="476.8" stroke="#fba88f"/>
<line x1="484.5" y1="476.8" x2="491.5" y2="469.9" stroke="#fba88f"/>
<line x1="491.5" y1="469.9" x2="497.5" y2="465.5" stroke="#fba88f"/>
<line x1="497.5" y1="465.5" x2="504.5" y2="462.6" stroke="#fba88f"/>
<line x1="504.5" y1="462.6" x2="510.5" y2="460.8" stroke="#fba88f"/>
<line x1="510.5" y1="460.8" x2="517.5" y2="459.4" stroke="#fba88f"/>
<line x1="517.5" y1="459.4" x2="523.5" y2="458.7" stroke="#fba88f"/>
<line x1="523.5" y1="458.7" x2="529.5" y2="458.3" stroke="#fba88f"/>
<line x1="529.5" y1="458.3" x2="536.5" y2="459.0" stroke="#fba88f"/>
<line x1="536.5" y1="459.0" x2="542.5" y2="458.4" stroke="#fba88f"/>
<line x1="542.5" y1="458.4" x2="549.5" y2="457.9" stroke="#fba88f"/>
<line x1="549.5" y1="457.9" x2="555.5" y2="524.6" stroke="#fddfd7"/>
<line x1="555.5" y1="524.6" x2="562.5" y2="502.1" stroke="#fba88f"/>
<line x1="562.5" y1="502.1" x2="568.5" y2="487.2" stroke="#fba88f"/>
<line x1="568.5" y1="487.2" x2="575.5" y2="477.1" stroke="#fba88f"/>
<line x1="575.5" y1="477.1" x2="581.5" y2="537.2" stroke="#fddfd7"/>
<line x1="581.5" y1="537.2" x2="588.5" y2="510.8" stroke="#fddfd7"/>
<line x1="588.5" y1="510.8" x2="594.5" y2="492.4" stroke="#fba88f"/>
<line x1="594.5" y1="492.4" x2="601.5" y2="480.0" stroke="#fba88f"/>
<line x1="601.5" y1="480.0" x2="607.5" y2="471.9" stroke="#fba88f"/>
<line x1="607.5" y1="471.9" x2="614.5" y2="466.4" stroke="#fba88f"/>
<line x1="614.5" y1="466.4" x2="620.5" y2="462.5" stroke="#fba88f"/>
<line x1="620.5" y1="462.5" x2="627.5" y2="460.9" stroke="#fba88f"/>
<line x1="627.5" y1="460.9" x2="633.5" y2="524.8" stroke="#fddfd7"/>
<line x1="633.5" y1="524.8" x2="640.5" y2="567.5" stroke="#fddfd7"/>
<line x1="640.5" y1="567.5" x2="646.5" y2="596.8" stroke="#fddfd7"/>
<line x1="646.5" y1="596.8" x2="652.5" y2="616.0" stroke="#fba88f"/>
<line x1="652.5" y1="616.0" x2="659.5" y2="629.1" stroke="#fba88f"/>
<line x1="659.5" y1="629.1" x2="665.5" y2="637.8" stroke="#fba88f"/>
<line x1="665.5" y1="637.8" x2="672.5" y2="642.9" stroke="#fba88f"/>
<line x1="672.5" y1="642.9" x2="678.5" y2="645.9" stroke="#fba88f"/>
<line x1="678.5" y1="645.9" x2="685.5" y2="648.7" stroke="#fba88f"/>
<line x1="685.5" y1="648.7" x2="691.5" y2="584.6" stroke="#fddfd7"/>
<line x1="691.5" y1="584.6" x2="698.5" y2="542.4" stroke="#fddfd7"/>
<line x1="698.5" y1="542.4" x2="704.5" y2="514.3" stroke="#fddfd7"/>
<line x1="704.5" y1="514.3" x2="711.5" y2="495.1" stroke="#fba88f"/>
<line x1="711.5" y1="495.1" x2="717.5" y2="482.4" stroke="#fba88f"/>
<line x1="717.5" y1="482.4" x2="724.5" y2="473.8" stroke="#fba88f"/>
<line x1="724.5" y1="473.8" x2="730.5" y2="467.7" stroke="#fba88f"/>
<line x1="730.5" y1="467.7" x2="737.5" y2="463.5" stroke="#fba88f"/>
<line x1="737.5" y1="463.5" x2="743.5" y2="460.7" stroke="#fba88f"/>
<line x1="743.5" y1="460.7" x2="750.5" y2="526.3" stroke="#fddfd7"/>
<line x1="750.5" y1="526.3" x2="756.5" y2="502.5" stroke="#fba88f"/>
<line x1="756.5" y1="502.5" x2="763.5" y2="486.8" stroke="#fba88f"/>
<line x1="763.5" y1="486.8" x2="769.5" y2="544.2" stroke="#fddfd7"/>
<line x1="769.5" y1="544.2" x2="775.5" y2="582.7" stroke="#fddfd7"/>
<line x1="775.5" y1="582.7" x2="782.5" y2="608.1" stroke="#fba88f"/>
<line x1="782.5" y1="608.1" x2="788.5" y2="625.2" stroke="#fba88f"/>
<line x1="788.5" y1="625.2" x2="795.5" y2="636.4" stroke="#fba88f"/>
<line x1="795.5" y1="636.4" x2="801.5" y2="575.8" stroke="#fddfd7"/>
<line x1="801.5" y1="575.8" x2="808.5" y2="535.0" stroke="#fddfd7"/>
<line x1="808.5" y1="535.0" x2="814.5" y2="507.9" stroke="#fba88f"/>
<line x1="814.5" y1="507.9" x2="821.5" y2="489.5" stroke="#fba88f"/>
<line x1="821.5" y1="489.5" x2="827.5" y2="477.3" stroke="#fba88f"/>
<line x1="827.5" y1="477.3" x2="834.5" y2="469.1" stroke="#fba88f"/>
<line x1="834.5" y1="469.1" x2="840.5" y2="463.7" stroke="#fba88f"/>
<line x1="840.5" y1="463.7" x2="847.5" y2="460.1" stroke="#fba88f"/>
<line x1="847.5" y1="460.1" x2="853.5" y2="458.9" stroke="#fba88f"/>
<line x1="853.5" y1="458.9" x2="860.5" y2="458.2" stroke="#fba88f"/>
<line x1="860.5" y1="458.2" x2="866.5" y2="458.0" stroke="#fba88f"/>
<line x1="866.5" y1="458.0" x2="873.5" y2="457.5" stroke="#fba88f"/>
<line x1="873.5" y1="457.5" x2="879.5" y2="457.3" stroke="#fba88f"/>
<line x1="879.5" y1="457.3" x2="886.5" y2="457.3" stroke="#fba88f"/>
<line x1="886.5" y1="457.3" x2="892.5" y2="457.6" stroke="#fba88f"/>
<line x1="892.5" y1="457.6" x2="898.5" y2="459.6" stroke="#fba88f"/>
<line x1="898.5" y1="459.6" x2="905.5" y2="460.9" stroke="#fba88f"/>
<line x1="905.5" y1="460.9" x2="911.5" y2="525.3" stroke="#fddfd7"/>
<line x1="911.5" y1="525.3" x2="918.5" y2="568.8" stroke="#fddfd7"/>
<line x1="918.5" y1="568.8" x2="924.5" y2="597.9" stroke="#fddfd7"/>
</g>
<g shape-rendering="crispEdges" fill="#555555">
<rect x="6" y="5" width="1011" height="1"/>
<rect x="6" y="686" width="1011" height="1"/>
<rect x="6" y="5" width="1" height="682"/>
<rect x="1016" y="5" width="1" height="682"/>
<rect x="961" y="5" width="1" height="663"/>
<rect x="6" y="445" width="1011" height="1"/>
<rect x="6" y="667" width="956" height="1"/>
<rect x="962" y="36" width="3" height="1"/>
<rect x="962" y="82" width="3" height="1"/>
<rect x="962" y="128" width="3" height="1"/>
<rect x="962" y="175" width="3" height="1"/>
<rect x="962" y="221" width="3" height="1"/>
<rect x="962" y="267" width="3" height="1"/>
<rect x="962" y="313" width="3" height="1"/>
<rect x="962" y="359" width="3" height="1"/>
<rect x="962" y="405" width="3" height="1"/>
<rect x="962" y="480" width="3" height="1"/>
<rect x="962" y="518" width="3" height="1"/>
<rect x="962" y="557" width="3" height="1"/>
<rect x="962" y="595" width="3" height="1"/>
<rect x="962" y="633" width="3" height="1"/>
<rect x="116" y="668" width="1" height="3"/>
<rect x="246" y="668" width="1" height="3"/>
<rect x="388" y="668" width="1" height="3"/>
<rect x="524" y="668" width="1" height="3"/>
<rect x="673" y="668" width="1" height="3"/>
<rect x="809" y="668" width="1" height="3"/>
<rect x="951" y="668" width="1" height="3"/>
</g>
<rect x="961" y="132" width="50" height="16" fill="#eb4d5c" shape-rendering="crispEdges"/>
<rect x="961" y="139" width="4" height="1" fill="#fff" shape-rendering="crispEdges"/>
<clipPath id="pm"><rect x="7" y="6" width="953" height="439"/></clipPath>
<g clip-path="url(#pm)">
<circle cx="945.2" cy="406.79999999999995" r="7.2" fill="#eef1f5"/><circle cx="945.3" cy="406.9" r="3.5" fill="#eb4d5c"/><circle cx="944.5" cy="406.4" r="11.0" fill="none" stroke="#f4506c" stroke-width="1.8"/><rect x="947.7" y="393.6" width="12.8" height="11.2" rx="5.4" fill="#fff"/><text x="954.1" y="402.7" text-anchor="middle" font-family="Liberation Sans, sans-serif" font-size="10.5" fill="#4a4a4a">3</text>
<circle cx="938.7" cy="406.79999999999995" r="7.2" fill="#eef1f5"/><circle cx="938.8" cy="406.9" r="3.5" fill="#eb4d5c"/><circle cx="938" cy="406.4" r="11.0" fill="none" stroke="#f7991f" stroke-width="1.8"/>
<circle cx="932.2" cy="406.79999999999995" r="7.2" fill="#eef1f5"/><circle cx="932.3" cy="406.9" r="3.5" fill="#eb4d5c"/><circle cx="931.5" cy="406.4" r="11.0" fill="none" stroke="#f7991f" stroke-width="1.8"/><rect x="934.7" y="393.6" width="12.8" height="11.2" rx="5.4" fill="#fff"/><text x="941.1" y="402.7" text-anchor="middle" font-family="Liberation Sans, sans-serif" font-size="10.5" fill="#4a4a4a">4</text>
<clipPath id="u0"><circle cx="951.5" cy="431.2" r="8.3"/></clipPath><g clip-path="url(#u0)"><rect x="943.2" y="422.9" width="16.6" height="16.6" fill="#f6f7f9"/><rect x="943.2" y="423.60" width="16.6" height="2.95" fill="#e9506b"/><rect x="943.2" y="429.50" width="16.6" height="2.95" fill="#e9506b"/><rect x="943.2" y="435.40" width="16.6" height="2.95" fill="#e9506b"/><rect x="943.2" y="422.9" width="9.6" height="9.7" fill="#4a83d9"/><rect x="944.9" y="425.3" width="1.7" height="1.3" fill="#a9c8f1"/><rect x="947.8" y="425.3" width="1.7" height="1.3" fill="#a9c8f1"/><rect x="950.7" y="425.3" width="1.7" height="1.3" fill="#a9c8f1"/><rect x="944.9" y="427.9" width="1.7" height="1.3" fill="#a9c8f1"/><rect x="947.8" y="427.9" width="1.7" height="1.3" fill="#a9c8f1"/><rect x="950.7" y="427.9" width="1.7" height="1.3" fill="#a9c8f1"/><rect x="944.9" y="430.5" width="1.7" height="1.3" fill="#a9c8f1"/><rect x="947.8" y="430.5" width="1.7" height="1.3" fill="#a9c8f1"/><rect x="950.7" y="430.5" width="1.7" height="1.3" fill="#a9c8f1"/></g><circle cx="951" cy="430.8" r="11.0" fill="none" stroke="#f7991f" stroke-width="1.8"/>
<clipPath id="u1"><circle cx="945.0" cy="431.2" r="8.3"/></clipPath><g clip-path="url(#u1)"><rect x="936.7" y="422.9" width="16.6" height="16.6" fill="#f6f7f9"/><rect x="936.7" y="423.60" width="16.6" height="2.95" fill="#e9506b"/><rect x="936.7" y="429.50" width="16.6" height="2.95" fill="#e9506b"/><rect x="936.7" y="435.40" width="16.6" height="2.95" fill="#e9506b"/><rect x="936.7" y="422.9" width="9.6" height="9.7" fill="#4a83d9"/><rect x="938.4" y="425.3" width="1.7" height="1.3" fill="#a9c8f1"/><rect x="941.3" y="425.3" width="1.7" height="1.3" fill="#a9c8f1"/><rect x="944.2" y="425.3" width="1.7" height="1.3" fill="#a9c8f1"/><rect x="938.4" y="427.9" width="1.7" height="1.3" fill="#a9c8f1"/><rect x="941.3" y="427.9" width="1.7" height="1.3" fill="#a9c8f1"/><rect x="944.2" y="427.9" width="1.7" height="1.3" fill="#a9c8f1"/><rect x="938.4" y="430.5" width="1.7" height="1.3" fill="#a9c8f1"/><rect x="941.3" y="430.5" width="1.7" height="1.3" fill="#a9c8f1"/><rect x="944.2" y="430.5" width="1.7" height="1.3" fill="#a9c8f1"/></g><circle cx="944.5" cy="430.8" r="11.0" fill="none" stroke="#f7991f" stroke-width="1.8"/><rect x="947.7" y="418.0" width="12.8" height="11.2" rx="5.4" fill="#fff"/><text x="954.1" y="427.1" text-anchor="middle" font-family="Liberation Sans, sans-serif" font-size="10.5" fill="#4a4a4a">3</text>
<clipPath id="u2"><circle cx="938.5" cy="431.2" r="8.3"/></clipPath><g clip-path="url(#u2)"><rect x="930.2" y="422.9" width="16.6" height="16.6" fill="#f6f7f9"/><rect x="930.2" y="423.60" width="16.6" height="2.95" fill="#e9506b"/><rect x="930.2" y="429.50" width="16.6" height="2.95" fill="#e9506b"/><rect x="930.2" y="435.40" width="16.6" height="2.95" fill="#e9506b"/><rect x="930.2" y="422.9" width="9.6" height="9.7" fill="#4a83d9"/><rect x="931.9" y="425.3" width="1.7" height="1.3" fill="#a9c8f1"/><rect x="934.8" y="425.3" width="1.7" height="1.3" fill="#a9c8f1"/><rect x="937.7" y="425.3" width="1.7" height="1.3" fill="#a9c8f1"/><rect x="931.9" y="427.9" width="1.7" height="1.3" fill="#a9c8f1"/><rect x="934.8" y="427.9" width="1.7" height="1.3" fill="#a9c8f1"/><rect x="937.7" y="427.9" width="1.7" height="1.3" fill="#a9c8f1"/><rect x="931.9" y="430.5" width="1.7" height="1.3" fill="#a9c8f1"/><rect x="934.8" y="430.5" width="1.7" height="1.3" fill="#a9c8f1"/><rect x="937.7" y="430.5" width="1.7" height="1.3" fill="#a9c8f1"/></g><circle cx="938" cy="430.8" r="11.0" fill="none" stroke="#f7991f" stroke-width="1.8"/><rect x="941.2" y="418.0" width="12.8" height="11.2" rx="5.4" fill="#fff"/><text x="947.6" y="427.1" text-anchor="middle" font-family="Liberation Sans, sans-serif" font-size="10.5" fill="#4a4a4a">2</text>
<clipPath id="u3"><circle cx="932.0" cy="431.2" r="8.3"/></clipPath><g clip-path="url(#u3)"><rect x="923.7" y="422.9" width="16.6" height="16.6" fill="#f6f7f9"/><rect x="923.7" y="423.60" width="16.6" height="2.95" fill="#e9506b"/><rect x="923.7" y="429.50" width="16.6" height="2.95" fill="#e9506b"/><rect x="923.7" y="435.40" width="16.6" height="2.95" fill="#e9506b"/><rect x="923.7" y="422.9" width="9.6" height="9.7" fill="#4a83d9"/><rect x="925.4" y="425.3" width="1.7" height="1.3" fill="#a9c8f1"/><rect x="928.3" y="425.3" width="1.7" height="1.3" fill="#a9c8f1"/><rect x="931.2" y="425.3" width="1.7" height="1.3" fill="#a9c8f1"/><rect x="925.4" y="427.9" width="1.7" height="1.3" fill="#a9c8f1"/><rect x="928.3" y="427.9" width="1.7" height="1.3" fill="#a9c8f1"/><rect x="931.2" y="427.9" width="1.7" height="1.3" fill="#a9c8f1"/><rect x="925.4" y="430.5" width="1.7" height="1.3" fill="#a9c8f1"/><rect x="928.3" y="430.5" width="1.7" height="1.3" fill="#a9c8f1"/><rect x="931.2" y="430.5" width="1.7" height="1.3" fill="#a9c8f1"/></g><circle cx="931.5" cy="430.8" r="11.0" fill="none" stroke="#f7991f" stroke-width="1.8"/><rect x="934.7" y="418.0" width="12.8" height="11.2" rx="5.4" fill="#fff"/><text x="941.1" y="427.1" text-anchor="middle" font-family="Liberation Sans, sans-serif" font-size="10.5" fill="#4a4a4a">3</text>
<clipPath id="u4"><circle cx="925.5" cy="431.2" r="8.3"/></clipPath><g clip-path="url(#u4)"><rect x="917.2" y="422.9" width="16.6" height="16.6" fill="#f6f7f9"/><rect x="917.2" y="423.60" width="16.6" height="2.95" fill="#e9506b"/><rect x="917.2" y="429.50" width="16.6" height="2.95" fill="#e9506b"/><rect x="917.2" y="435.40" width="16.6" height="2.95" fill="#e9506b"/><rect x="917.2" y="422.9" width="9.6" height="9.7" fill="#4a83d9"/><rect x="918.9" y="425.3" width="1.7" height="1.3" fill="#a9c8f1"/><rect x="921.8" y="425.3" width="1.7" height="1.3" fill="#a9c8f1"/><rect x="924.7" y="425.3" width="1.7" height="1.3" fill="#a9c8f1"/><rect x="918.9" y="427.9" width="1.7" height="1.3" fill="#a9c8f1"/><rect x="921.8" y="427.9" width="1.7" height="1.3" fill="#a9c8f1"/><rect x="924.7" y="427.9" width="1.7" height="1.3" fill="#a9c8f1"/><rect x="918.9" y="430.5" width="1.7" height="1.3" fill="#a9c8f1"/><rect x="921.8" y="430.5" width="1.7" height="1.3" fill="#a9c8f1"/><rect x="924.7" y="430.5" width="1.7" height="1.3" fill="#a9c8f1"/></g><circle cx="925" cy="430.8" r="11.0" fill="none" stroke="#f7991f" stroke-width="1.8"/><rect x="928.2" y="418.0" width="12.8" height="11.2" rx="5.4" fill="#fff"/><text x="934.6" y="427.1" text-anchor="middle" font-family="Liberation Sans, sans-serif" font-size="10.5" fill="#4a4a4a">6</text>
</g>
</svg>
<div id="tx">
<div class="t" style="left:15.4px;top:15.2px;font-size:14px;color:#555555;letter-spacing:0.28px;line-height:16px;height:16px;">U.S. Dollar/Japanese Yen, 1日, FXCM</div>
<div class="t" style="left:14.7px;top:456.4px;font-size:14px;color:#555555;letter-spacing:0.15px;line-height:16px;height:16px;">Lark: PFE (10, 5)</div>
<div class="t" style="left:968.5px;top:30px;font-size:11px;color:#555555;">113.000</div>
<div class="t" style="left:968.5px;top:76px;font-size:11px;color:#555555;">112.000</div>
<div class="t" style="left:968.5px;top:122px;font-size:11px;color:#555555;">111.000</div>
<div class="t" style="left:968.5px;top:169px;font-size:11px;color:#555555;">110.000</div>
<div class="t" style="left:968.5px;top:215px;font-size:11px;color:#555555;">109.000</div>
<div class="t" style="left:968.5px;top:261px;font-size:11px;color:#555555;">108.000</div>
<div class="t" style="left:968.5px;top:307px;font-size:11px;color:#555555;">107.000</div>
<div class="t" style="left:968.5px;top:353px;font-size:11px;color:#555555;">106.000</div>
<div class="t" style="left:968.5px;top:399px;font-size:11px;color:#555555;">105.000</div>
<div class="t" style="left:968.5px;top:474px;font-size:11px;color:#555555;">80.0000</div>
<div class="t" style="left:968.5px;top:512px;font-size:11px;color:#555555;">40.0000</div>
<div class="t" style="left:968.5px;top:551px;font-size:11px;color:#555555;">0.0000</div>
<div class="t" style="left:968.5px;top:589px;font-size:11px;color:#555555;">-40.0000</div>
<div class="t" style="left:968.5px;top:627px;font-size:11px;color:#555555;">-80.0000</div>
<div class="t" style="left:968.5px;top:133px;font-size:11px;color:#fff;font-weight:bold;">110.766</div>
<div class="t" style="left:96px;top:671.2px;width:41px;text-align:center;font-size:12px;font-weight:bold;color:#555555"><span style="letter-spacing:0.2px">2</span><span style="font-size:11px">月</span></div>
<div class="t" style="left:226px;top:671.2px;width:41px;text-align:center;font-size:12px;font-weight:bold;color:#555555"><span style="letter-spacing:0.2px">3</span><span style="font-size:11px">月</span></div>
<div class="t" style="left:368px;top:671.2px;width:41px;text-align:center;font-size:12px;font-weight:bold;color:#555555"><span style="letter-spacing:0.2px">4</span><span style="font-size:11px">月</span></div>
<div class="t" style="left:504px;top:671.2px;width:41px;text-align:center;font-size:12px;font-weight:bold;color:#555555"><span style="letter-spacing:0.2px">5</span><span style="font-size:11px">月</span></div>
<div class="t" style="left:653px;top:671.2px;width:41px;text-align:center;font-size:12px;font-weight:bold;color:#555555"><span style="letter-spacing:0.2px">6</span><span style="font-size:11px">月</span></div>
<div class="t" style="left:789px;top:671.2px;width:41px;text-align:center;font-size:12px;font-weight:bold;color:#555555"><span style="letter-spacing:0.2px">7</span><span style="font-size:11px">月</span></div>
<div class="t" style="left:931px;top:671.2px;width:41px;text-align:center;font-size:12px;font-weight:bold;color:#555555"><span style="letter-spacing:0.2px">8</span><span style="font-size:11px">月</span></div>
</div>
</div></body></html>
